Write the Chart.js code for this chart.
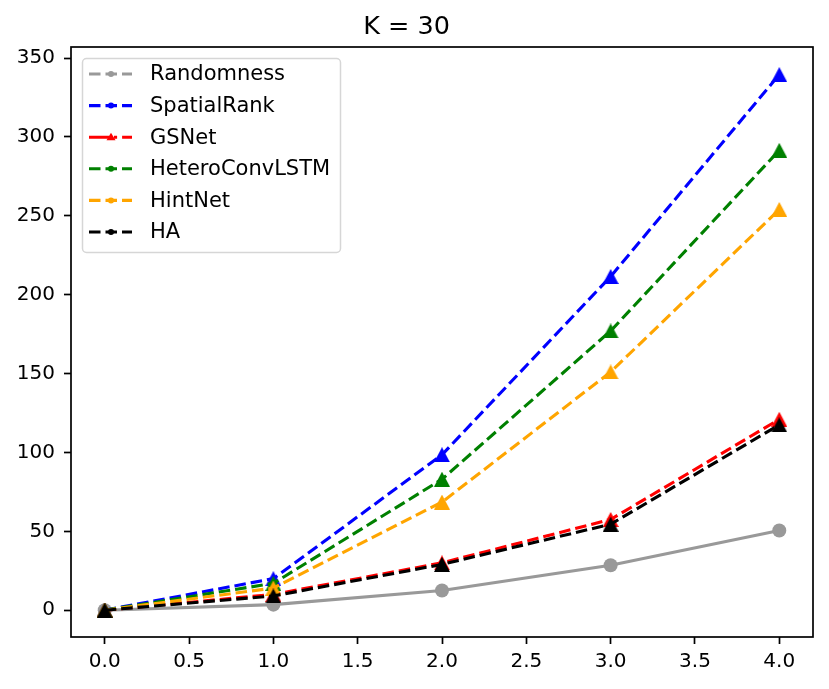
<!DOCTYPE html>
<html>
<head>
<meta charset="utf-8">
<title>K = 30</title>
<script src="https://cdn.jsdelivr.net/npm/chart.js@4.4.1/dist/chart.umd.min.js"></script>
<style>
    html, body { margin: 0; padding: 0; background: #ffffff; }
    #wrap { width: 829px; height: 689px; }
</style>
</head>
<body>
<div id="wrap"><canvas id="kChart" width="829" height="689"></canvas></div>
<script>
// Data
const xValues = [0, 1, 2, 3, 4];
const xTicks = [0, 0.5, 1, 1.5, 2, 2.5, 3, 3.5, 4];
const yTicks = [0, 50, 100, 150, 200, 250, 300, 350];

const labels = ['Randomness', 'SpatialRank', 'GSNet', 'HeteroConvLSTM', 'HintNet', 'HA'];
const randomness = [0, 3.5, 12.5, 28.5, 50.5];
const spatialRank = [0, 20, 98.5, 211.5, 339.5];
const gsNet = [0, 10, 30, 57.5, 121];
const heteroConvLSTM = [0, 17, 83, 177, 291.5];
const hintNet = [0, 14, 68.5, 151, 254];
const ha = [0, 9, 29, 54.5, 117.5];

const FONT = 'DejaVu Sans';
const LINE_W = 3.1;
const DASHED = [11.5, 5];
const DASH_DOT = [20, 5, 3.1, 5];

// Triangle marker like matplotlib '^'
function makeTriangle(color, w, h) {
    const c = document.createElement('canvas');
    c.width = w;
    c.height = h;
    const g = c.getContext('2d');
    g.fillStyle = color;
    g.beginPath();
    g.moveTo(w / 2, 0);
    g.lineTo(w, h);
    g.lineTo(0, h);
    g.closePath();
    g.fill();
    return c;
}

function toPoints(values) {
    return values.map((v, i) => ({ x: xValues[i], y: v }));
}

const series = [
    { label: labels[0], values: randomness, color: '#999999', dash: [], marker: 'circle', legendDash: DASHED },
    { label: labels[1], values: spatialRank, color: '#0000ff', dash: DASHED, marker: 'triangle', legendDash: DASHED },
    { label: labels[2], values: gsNet, color: '#ff0000', dash: DASHED, marker: 'triangle', legendDash: DASH_DOT },
    { label: labels[3], values: heteroConvLSTM, color: '#008000', dash: DASHED, marker: 'triangle', legendDash: DASHED },
    { label: labels[4], values: hintNet, color: '#ffa500', dash: DASHED, marker: 'triangle', legendDash: DASHED },
    { label: labels[5], values: ha, color: '#000000', dash: DASHED, marker: 'triangle', legendDash: DASHED }
];

const datasets = series.map((s, i) => ({
    label: s.label,
    data: toPoints(s.values),
    borderColor: s.color,
    backgroundColor: s.color,
    borderWidth: LINE_W,
    borderDash: s.dash,
    pointStyle: s.marker === 'circle' ? 'circle' : makeTriangle(s.color, 16, 15),
    pointRadius: 7,
    pointBorderWidth: 0,
    pointBackgroundColor: s.color,
    tension: 0,
    fill: false,
    order: series.length - i
}));

// Axes frame and legend box drawn like matplotlib
const framePlugin = {
    id: 'frame',
    afterDraw(chart) {
        const ctx = chart.ctx;
        const a = chart.chartArea;
        ctx.save();
        ctx.strokeStyle = '#000000';
        ctx.lineWidth = 1.7;
        ctx.strokeRect(a.left, a.top, a.right - a.left, a.bottom - a.top);

        // legend box
        const bx = 82, by = 58, bw = 258, bh = 194;
        ctx.fillStyle = 'rgba(255,255,255,0.8)';
        ctx.strokeStyle = '#d6d6d6';
        ctx.lineWidth = 1.5;
        ctx.beginPath();
        ctx.roundRect(bx + 0.5, by + 0.5, bw, bh, 4);
        ctx.fill();
        ctx.stroke();

        ctx.font = '21px ' + FONT;
        ctx.textBaseline = 'middle';
        ctx.textAlign = 'left';
        series.forEach((s, i) => {
            const y = 74 + i * 31.6;
            ctx.strokeStyle = s.color;
            ctx.fillStyle = s.color;
            ctx.lineWidth = LINE_W;
            ctx.setLineDash(s.legendDash);
            ctx.beginPath();
            ctx.moveTo(89, y);
            ctx.lineTo(132, y);
            ctx.stroke();
            ctx.setLineDash([]);
            ctx.beginPath();
            if (s.label === 'GSNet') {
                ctx.moveTo(111, y - 4.5);
                ctx.lineTo(115.5, y + 3);
                ctx.lineTo(106.5, y + 3);
                ctx.closePath();
            } else {
                ctx.arc(111, y, 3, 0, Math.PI * 2);
            }
            ctx.fill();
            ctx.fillStyle = '#000000';
            ctx.fillText(s.label, 150, y + 1);
        });
        ctx.restore();
    }
};

new Chart(document.getElementById('kChart'), {
    type: 'line',
    data: { datasets: datasets },
    options: {
        responsive: false,
        animation: false,
        devicePixelRatio: 1,
        layout: { padding: { left: 0, right: 16, top: 0, bottom: 0 } },
        plugins: {
            legend: { display: false },
            tooltip: { enabled: false },
            title: {
                display: true,
                text: 'K = 30',
                color: '#000000',
                font: { family: FONT, size: 25.5, weight: 'normal', lineHeight: 1.2 },
                padding: { top: 11.7, bottom: 4.7 }
            }
        },
        scales: {
            x: {
                type: 'linear',
                min: -0.2,
                max: 4.2,
                afterBuildTicks: (scale) => { scale.ticks = xTicks.map(v => ({ value: v })); },
                afterFit: (scale) => { scale.height = 52; },
                border: { display: false },
                grid: { drawOnChartArea: false, drawTicks: true, tickLength: 7, tickWidth: 1.7, color: '#000000' },
                ticks: {
                    color: '#000000',
                    padding: 6,
                    maxRotation: 0,
                    font: { family: FONT, size: 20 },
                    callback: (v) => Number(v).toFixed(1)
                }
            },
            y: {
                type: 'linear',
                min: -17,
                max: 357,
                afterBuildTicks: (scale) => { scale.ticks = yTicks.map(v => ({ value: v })); },
                afterFit: (scale) => { scale.width = 71; },
                border: { display: false },
                grid: { drawOnChartArea: false, drawTicks: true, tickLength: 7, tickWidth: 1.7, color: '#000000' },
                ticks: {
                    color: '#000000',
                    padding: 9,
                    font: { family: FONT, size: 20 },
                    callback: (v) => String(v)
                }
            }
        }
    },
    plugins: [framePlugin]
});
</script>
</body>
</html>
